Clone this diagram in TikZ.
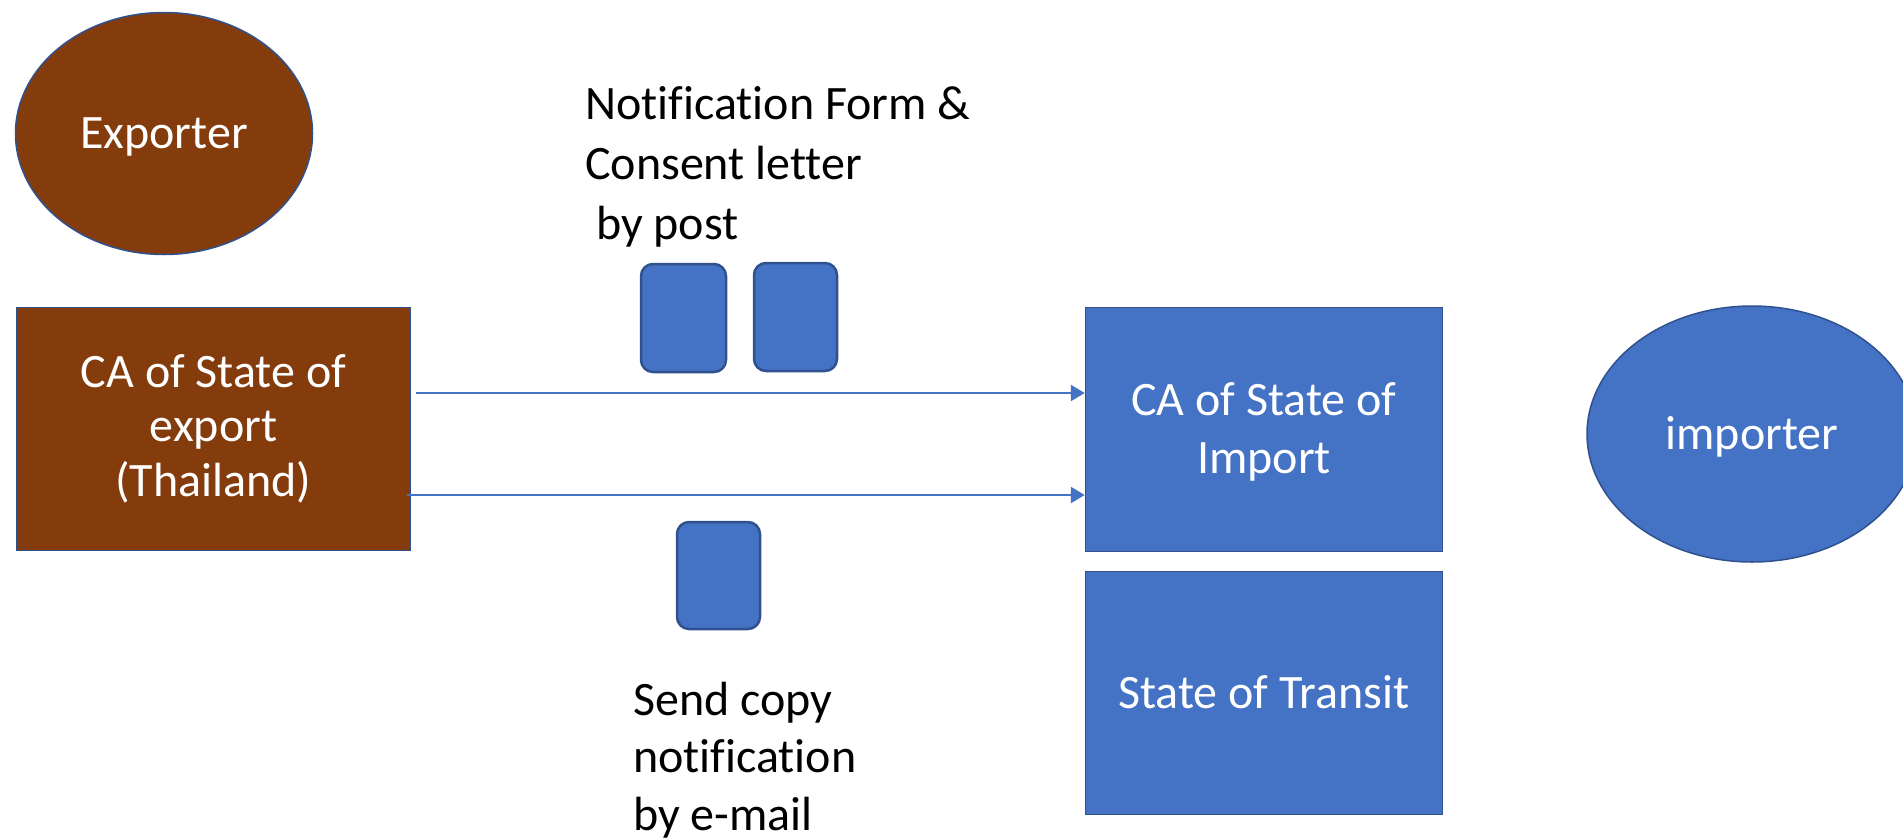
\documentclass[tikz,border=0pt]{standalone}
\usepackage{fontspec}
\setmainfont{Carlito}[Ligatures=NoCommon]
\usetikzlibrary{arrows.meta,shapes.geometric}
\definecolor{pblue}{HTML}{4472C4}
\definecolor{pedge}{HTML}{2F528F}
\definecolor{pbrown}{HTML}{843C0C}
\newcommand{\tstr}[1]{\rule{0pt}{#1}}
\newcommand{\bstr}[1]{\rule[-#1]{0pt}{#1}}
\begin{document}
\begin{tikzpicture}[x=1pt,y=-1pt,
  shapebox/.style={draw=pedge,line width=1.5pt,inner sep=0pt,text=white,
    font=\fontsize{48}{57.6}\selectfont,align=center},
  docbox/.style={draw=pedge,fill=pblue,line width=2.5pt,rounded corners=12pt,inner sep=0pt},
  flow/.style={draw=pblue,line width=2.5pt,-{Triangle[length=14pt,width=16pt]}},
  lbl/.style={font=\fontsize{48}{57.6}\selectfont,align=left,inner sep=0pt,anchor=north west}]
\useasboundingbox (0,0) rectangle (1903,838);
\begin{scope}
\clip (0,0) rectangle (1903,838);
\node[shapebox,ellipse,fill=pbrown,minimum width=297pt,minimum height=242pt] (exporter) at (164,133.5)
  {\tstr{45pt}Exporter\bstr{16pt}};
\node[shapebox,rectangle,fill=pbrown,minimum width=394pt,minimum height=243pt,
  font=\fontsize{48}{54.5}\selectfont] (caexp) at (213.5,429)
  {\tstr{45pt}CA of State of\\export\\(Thailand)\bstr{20pt}};
\node[shapebox,rectangle,fill=pblue,minimum width=357pt,minimum height=244pt] (caimp) at (1264,429.5)
  {\tstr{45pt}CA of State of\\Import\bstr{15.5pt}};
\node[shapebox,rectangle,fill=pblue,minimum width=357pt,minimum height=243pt] (transit) at (1264,693)
  {\tstr{45pt}State of Transit\bstr{15pt}};
\node[shapebox,ellipse,fill=pblue,minimum width=330pt,minimum height=256pt] (importer) at (1752,434)
  {\tstr{46pt}importer\bstr{16pt}};
\node[docbox,minimum width=85pt,minimum height=108pt] (doc1) at (683.5,318) {};
\node[docbox,minimum width=83pt,minimum height=108pt] (doc2) at (795.5,317) {};
\node[docbox,minimum width=83pt,minimum height=107pt] (doc3) at (718.5,575.5) {};
\coordinate (s1) at (416,393);
\coordinate (s2) at (407,495);
\draw[flow] (s1) -- (s1 -| caimp.west);
\draw[flow] (s2) -- (s2 -| caimp.west);
\node[lbl,font=\fontsize{48}{60}\selectfont] (lblpost) at (585,79)
  {\tstr{40pt}Notification Form \&\\Consent letter\\\hspace*{11pt}by post};
\node[lbl] (lblmail) at (633,675) {\tstr{40pt}Send copy\\notification\\by e-mail};
\end{scope}
\end{tikzpicture}
\end{document}
